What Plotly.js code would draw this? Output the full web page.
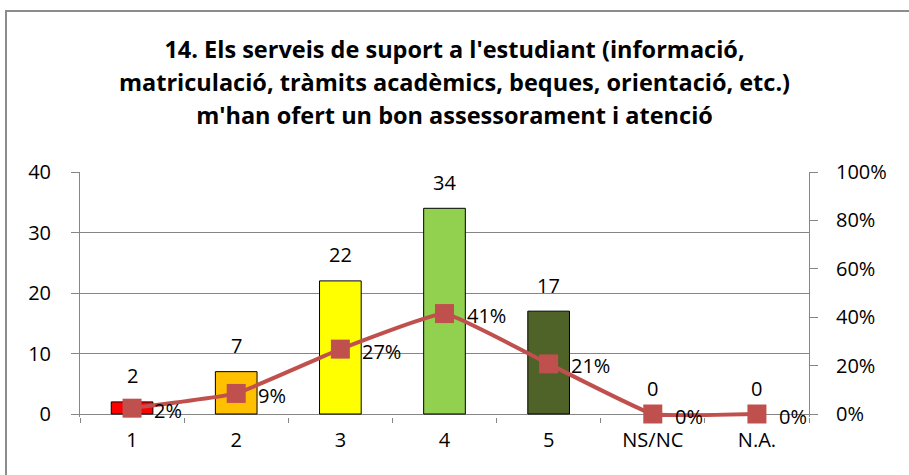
<!DOCTYPE html>
<html><head><meta charset="utf-8">
<script src="https://cdn.plot.ly/plotly-3.0.1.min.js"></script>
<style>
html,body{margin:0;padding:0;background:#fff;}
#wrap{position:relative;width:909px;height:475px;overflow:hidden;}
#chart{position:absolute;left:0;top:0;width:909px;height:475px;}
#frame{position:absolute;left:5px;top:10px;width:920px;height:480px;border:2px solid #8c8c8c;pointer-events:none;box-sizing:border-box;}
</style></head>
<body><div id="wrap"><div id="chart"></div><div id="frame"></div></div>
<script>
const categories = ["1", "2", "3", "4", "5", "NS/NC", "N.A."];
const counts = [2, 7, 22, 34, 17, 0, 0];
const shares = [0.024, 0.085, 0.268, 0.415, 0.207, 0, 0];
const shareLabels = ["2%", "9%", "27%", "41%", "21%", "0%", "0%"];
const barColors = ["#FF0000", "#FFC000", "#FFFF00", "#92D050", "#4F6228", "#4F6228", "#4F6228"];
const leftTicks = [0, 10, 20, 30, 40];
const rightTicks = [0, 0.2, 0.4, 0.6, 0.8, 1.0];
const rightTickLabels = ["0%", "20%", "40%", "60%", "80%", "100%"];
const titleLines = ["14. Els serveis de suport a l'estudiant (informació,",
  "matriculació, tràmits acadèmics, beques, orientació, etc.)",
  "m'han ofert un bon assessorament i atenció"];

const FONT = "Open Sans, Noto Sans, sans-serif";
const tickFont = {family: FONT, size: 20, color: "#000"};

const traces = [
  {type: "bar", x: categories, y: counts, width: 0.4,
   marker: {color: barColors, line: {color: "#000", width: counts.map(v => v > 0 ? 1 : 0)}},
   hoverinfo: "x+y", showlegend: false},
  {type: "scatter", mode: "lines+markers", x: categories, y: shares, yaxis: "y2",
   cliponaxis: false,
   line: {color: "#C0504D", width: 4, shape: "spline", smoothing: 0.3},
   marker: {symbol: "square", size: 19, color: "#C0504D"},
   showlegend: false}
];

const annotations = [];
categories.forEach((c, i) => {
  annotations.push({x: i, y: counts[i], xref: "x", yref: "y", text: String(counts[i]),
    showarrow: false, yshift: 26, font: tickFont});
  annotations.push({x: i, y: shares[i], xref: "x", yref: "y2", text: shareLabels[i],
    showarrow: false, xanchor: "left", xshift: 20, yshift: -2, font: tickFont});
});

const layout = {
  width: 909, height: 475,
  margin: {l: 80, r: 100, t: 172, b: 58},
  paper_bgcolor: "#fff", plot_bgcolor: "#fff",
  title: {
    text: titleLines.map(t => '<span style="font-size:23.5px">' + t + '</span>').join("<br>"),
    font: {family: FONT, size: 25.5, color: "#000", weight: "bold"},
    x: 0.5, xanchor: "center", y: 1 - 58/475, yanchor: "top"
  },
  xaxis: {type: "category", tickson: "boundaries", ticks: "outside", ticklen: 5,
    tickcolor: "#868686", showline: false,
    showgrid: false, tickfont: tickFont, range: [-0.5, 6.5], fixedrange: true,
    ticklabelstandoff: 9},
  yaxis: {range: [-0.496, 40], tickvals: leftTicks, ticks: "outside", ticklen: 8,
    tickcolor: "#868686", showline: true, linecolor: "#868686", linewidth: 1,
    showgrid: true, gridcolor: "#868686", gridwidth: 1,
    zeroline: true, zerolinecolor: "#868686", zerolinewidth: 1,
    tickfont: tickFont, ticklabelstandoff: 16, layer: "below traces"},
  yaxis2: {range: [-0.0124, 1], overlaying: "y", side: "right", tickvals: rightTicks,
    ticktext: rightTickLabels, ticks: "outside", ticklen: 8, tickcolor: "#868686",
    showline: true, linecolor: "#868686", linewidth: 1, showgrid: false,
    zeroline: false, tickfont: tickFont, ticklabelstandoff: 14, layer: "below traces"},
  annotations: annotations,
  bargap: 0.6
};
Plotly.newPlot("chart", traces, layout, {displayModeBar: false, staticPlot: true});
</script></body></html>
